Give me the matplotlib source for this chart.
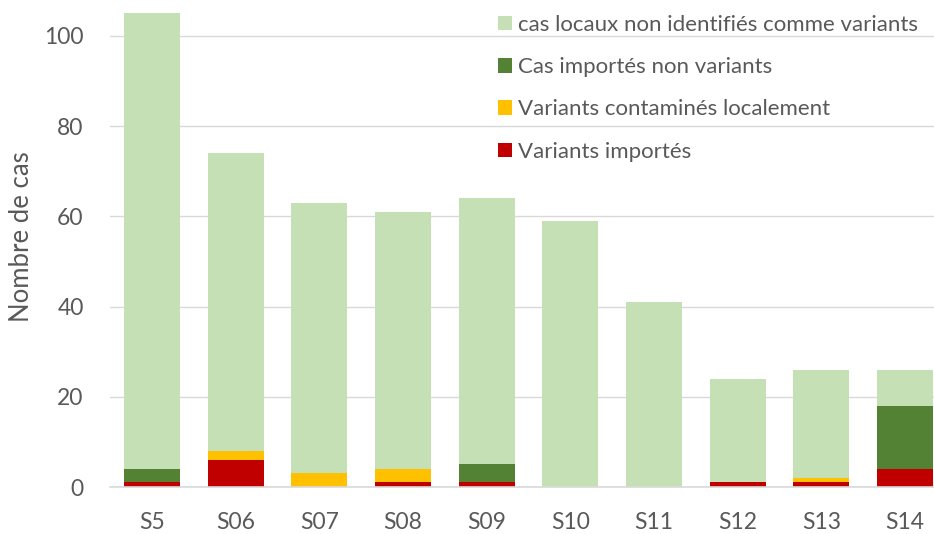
import matplotlib.pyplot as plt
import numpy as np

semaines = ["S5", "S06", "S07", "S08", "S09", "S10", "S11", "S12", "S13", "S14"]
variants_importes = [1, 6, 0, 1, 1, 0, 0, 1, 1, 4]
variants_locaux = [0, 2, 3, 3, 0, 0, 0, 0, 1, 0]
importes_non_variants = [3, 0, 0, 0, 4, 0, 0, 0, 0, 14]
locaux_non_variants = [101, 66, 60, 57, 59, 59, 41, 23, 24, 8]

series = [
    ("Variants importés", variants_importes, "#c00000"),
    ("Variants contaminés localement", variants_locaux, "#ffc000"),
    ("Cas importés non variants", importes_non_variants, "#548235"),
    ("cas locaux non identifiés comme variants", locaux_non_variants, "#c5e0b4"),
]

plt.rcParams["font.family"] = ["Lato", "DejaVu Sans"]
gris = "#595959"

fig = plt.figure(figsize=(9.34, 5.34), dpi=100)
ax = fig.add_axes([110 / 934, (534 - 487) / 534, (947 - 110) / 934, (487 - 13.4) / 534])

x = np.arange(len(semaines))
bas = np.zeros(len(semaines))
handles = []
for nom, vals, couleur in series:
    b = ax.bar(x, vals, bottom=bas, width=0.67, color=couleur, label=nom, zorder=3)
    handles.append(b)
    bas += np.array(vals)

ax.set_xlim(-0.5, len(semaines) - 0.5)
ax.set_ylim(0, 105)
ax.set_yticks([0, 20, 40, 60, 80, 100])
ax.yaxis.grid(True, color="#d9d9d9", linewidth=1, zorder=0)
ax.set_xticks(x)
ax.set_xticklabels(semaines)
ax.tick_params(axis="both", length=0, labelsize=16.5, colors=gris)
ax.tick_params(axis="x", pad=18)
ax.tick_params(axis="y", pad=19)
for s in ["top", "right", "left"]:
    ax.spines[s].set_visible(False)
ax.spines["bottom"].set_color("#d9d9d9")
ax.spines["bottom"].set_linewidth(1.2)
ax.spines["bottom"].set_zorder(4)

fig.text(22 / 934, 1 - 237 / 534, "Nombre de cas", rotation=90, fontsize=18.5,
         color=gris, ha="center", va="center")

leg = fig.legend(handles[::-1], [s[0] for s in series][::-1],
                 loc="upper left", bbox_to_anchor=(478 / 934, 1 + 5 / 534),
                 frameon=False, fontsize=16, handlelength=0.62, handleheight=0.62,
                 handletextpad=0.3, labelspacing=1.0)
for t in leg.get_texts():
    t.set_color(gris)

fig.savefig("out.png", dpi=100)
